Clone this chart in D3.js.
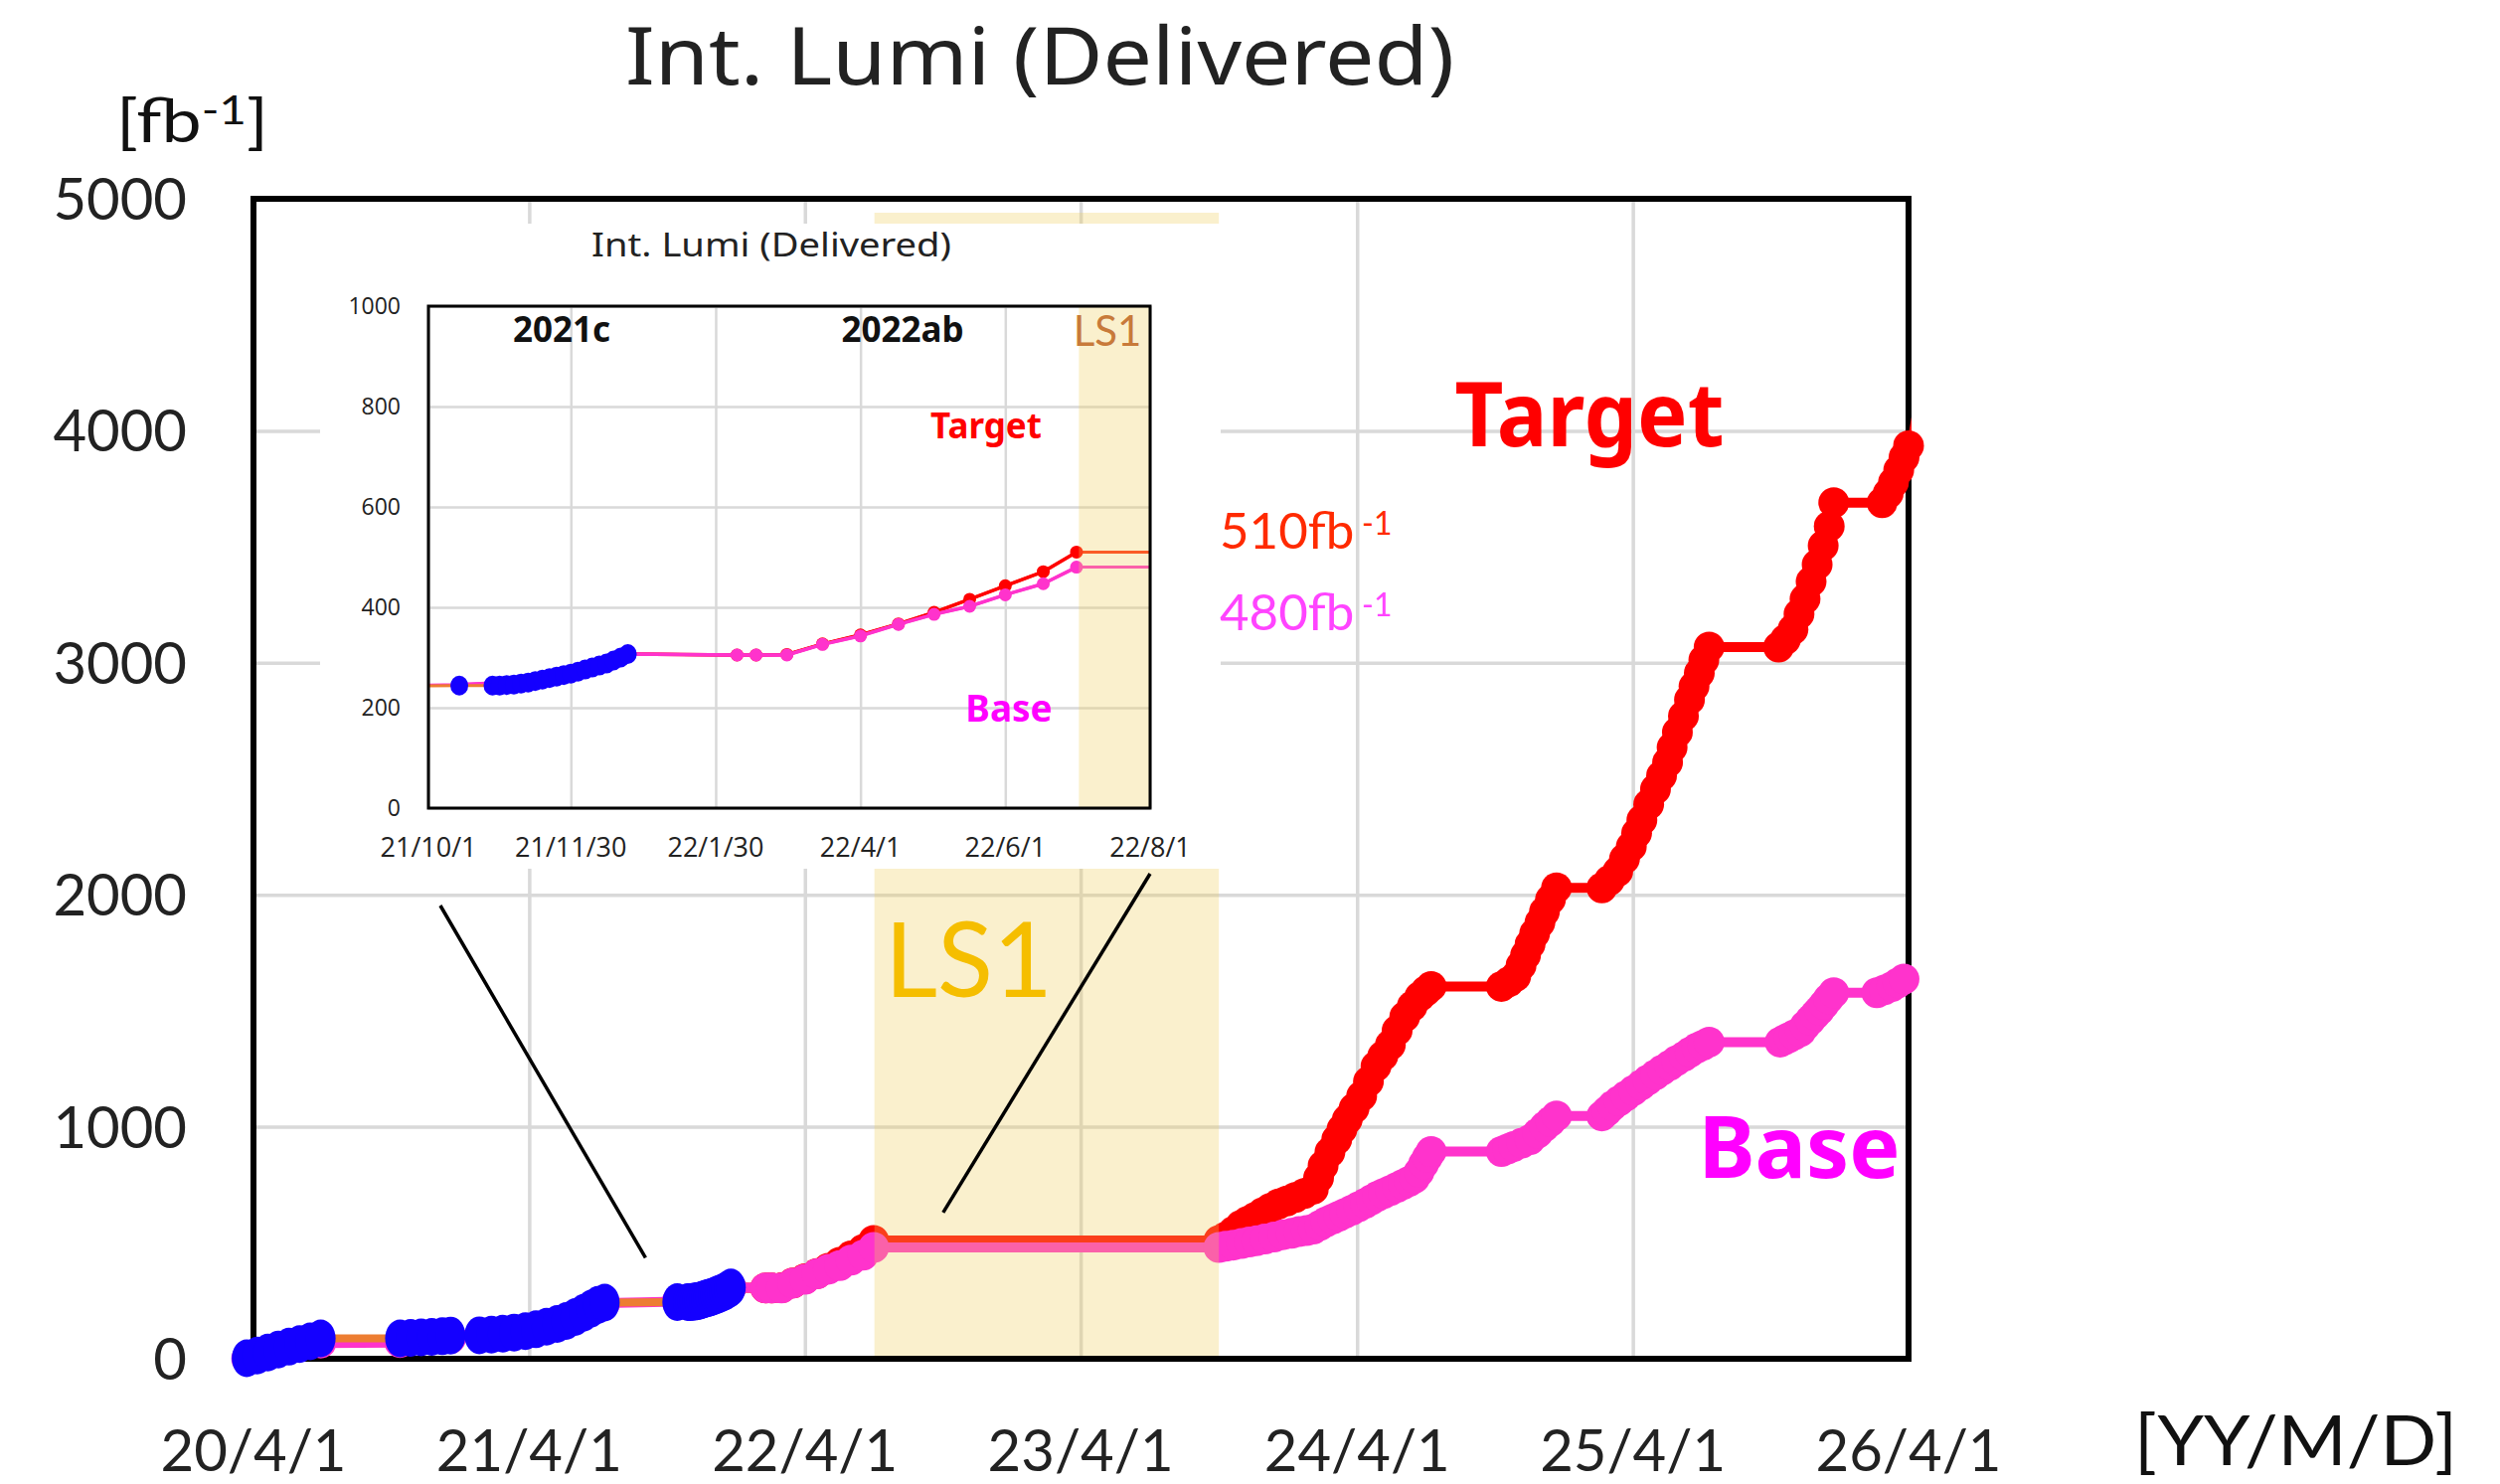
<!DOCTYPE html>
<html>
<head>
<meta charset="utf-8">
<script src="https://cdn.jsdelivr.net/npm/d3@7"></script>
<style>
body { margin: 0; background: #fff; }
</style>
</head>
<body>
<div id="chart"></div>
<script>
// ---- data ----
var yearTicks = ["2020-04-01", "2021-04-01", "2022-04-01", "2023-04-01", "2024-04-01", "2025-04-01", "2026-04-01"];
var yTicks = [0, 1000, 2000, 3000, 4000, 5000];
var insetXTicks = ["2021-10-01", "2021-11-30", "2022-01-30", "2022-04-01", "2022-06-01", "2022-08-01"];
var insetYTicks = [0, 200, 400, 600, 800, 1000];
var ls1 = ["2022-07-02", "2023-10-01"];

// delivered so far (blue dots)
var delivered = [
  ["2020-03-23", 2], ["2020-04-06", 14], ["2020-04-20", 27], ["2020-05-04", 40], ["2020-05-18", 52],
  ["2020-06-01", 63], ["2020-06-15", 75], ["2020-06-29", 88],
  ["2020-10-12", 88], ["2020-10-26", 90], ["2020-11-09", 92], ["2020-11-23", 94], ["2020-12-07", 97], ["2020-12-18", 100],
  ["2021-01-25", 101], ["2021-02-10", 104], ["2021-02-25", 108], ["2021-03-12", 113], ["2021-03-27", 119],
  ["2021-04-10", 127], ["2021-04-24", 138], ["2021-05-08", 150], ["2021-05-20", 163], ["2021-06-01", 180],
  ["2021-06-12", 198], ["2021-06-22", 216], ["2021-07-01", 232], ["2021-07-10", 242],
  ["2021-10-14", 244], ["2021-10-28", 244], ["2021-10-31", 244], ["2021-11-03", 245], ["2021-11-06", 246],
  ["2021-11-09", 248], ["2021-11-12", 250], ["2021-11-15", 253], ["2021-11-18", 256], ["2021-11-21", 259],
  ["2021-11-24", 262], ["2021-11-27", 265], ["2021-11-30", 268], ["2021-12-03", 272], ["2021-12-06", 276],
  ["2021-12-09", 280], ["2021-12-12", 284], ["2021-12-15", 288], ["2021-12-18", 294], ["2021-12-21", 300],
  ["2021-12-24", 307]
];

// Base plan (pink)
var base = [
  ["2020-03-23", 0], ["2020-06-29", 68], ["2020-10-12", 70], ["2020-12-18", 88], ["2021-07-10", 240],
  ["2021-10-14", 246], ["2021-11-09", 252], ["2021-11-30", 272], ["2021-12-24", 307],
  ["2022-02-08", 305], ["2022-02-16", 305], ["2022-03-01", 305], ["2022-03-16", 326], ["2022-04-01", 343],
  ["2022-04-17", 366], ["2022-05-02", 386], ["2022-05-17", 402], ["2022-06-01", 425], ["2022-06-17", 447],
  ["2022-07-01", 480],
  ["2023-10-01", 480], ["2023-10-10", 485], ["2023-10-20", 490], ["2023-10-31", 497], ["2023-11-10", 503],
  ["2023-11-20", 509], ["2023-12-01", 516], ["2023-12-13", 525], ["2023-12-25", 535], ["2024-01-05", 541],
  ["2024-01-15", 548], ["2024-01-25", 553], ["2024-02-03", 559], ["2024-02-12", 575], ["2024-02-20", 590],
  ["2024-02-29", 603], ["2024-03-08", 615], ["2024-03-16", 627], ["2024-03-25", 640], ["2024-04-03", 655],
  ["2024-04-12", 670], ["2024-04-20", 685], ["2024-04-28", 700], ["2024-05-06", 712], ["2024-05-15", 725],
  ["2024-05-24", 739], ["2024-06-01", 752], ["2024-06-09", 765], ["2024-06-16", 778], ["2024-06-22", 805],
  ["2024-06-28", 840], ["2024-07-03", 868], ["2024-07-08", 893],
  ["2024-10-09", 893], ["2024-10-17", 904], ["2024-10-25", 915], ["2024-11-05", 930], ["2024-11-16", 945],
  ["2024-11-26", 972], ["2024-12-05", 1000], ["2024-12-13", 1023], ["2024-12-21", 1047],
  ["2025-02-19", 1047], ["2025-02-26", 1068], ["2025-03-05", 1090], ["2025-03-14", 1112], ["2025-03-23", 1133],
  ["2025-04-02", 1157], ["2025-04-12", 1180], ["2025-04-21", 1202], ["2025-05-01", 1224], ["2025-05-10", 1245],
  ["2025-05-20", 1265], ["2025-05-29", 1285], ["2025-06-08", 1304], ["2025-06-16", 1322], ["2025-06-25", 1340],
  ["2025-07-03", 1352], ["2025-07-11", 1365],
  ["2025-10-13", 1365], ["2025-10-19", 1375], ["2025-10-25", 1385], ["2025-11-01", 1397], ["2025-11-09", 1410],
  ["2025-11-15", 1435], ["2025-11-22", 1460], ["2025-11-28", 1482], ["2025-12-04", 1503], ["2025-12-10", 1527],
  ["2025-12-16", 1552], ["2025-12-23", 1578],
  ["2026-02-18", 1578], ["2026-02-28", 1590], ["2026-03-10", 1604], ["2026-03-18", 1620], ["2026-03-26", 1637],
  ["2026-04-04", 1654]
];

// Target plan (red)
var target = [
  ["2021-12-24", 307], ["2022-02-08", 305], ["2022-02-16", 305], ["2022-03-01", 306], ["2022-03-16", 327],
  ["2022-04-01", 345], ["2022-04-17", 367], ["2022-05-02", 390], ["2022-05-17", 416], ["2022-06-01", 443],
  ["2022-06-17", 471], ["2022-07-01", 510],
  ["2023-10-01", 510], ["2023-10-10", 525], ["2023-10-20", 548], ["2023-10-30", 575], ["2023-11-08", 592],
  ["2023-11-18", 610], ["2023-11-28", 630], ["2023-12-08", 648], ["2023-12-19", 667], ["2023-12-30", 680],
  ["2024-01-10", 695], ["2024-01-22", 712], ["2024-02-03", 731], ["2024-02-10", 780], ["2024-02-16", 832],
  ["2024-02-25", 890], ["2024-03-05", 945], ["2024-03-12", 990], ["2024-03-19", 1031], ["2024-03-28", 1080],
  ["2024-04-07", 1132], ["2024-04-16", 1195], ["2024-04-26", 1261], ["2024-05-05", 1305], ["2024-05-15", 1353],
  ["2024-05-24", 1415], ["2024-06-03", 1474], ["2024-06-13", 1520], ["2024-06-23", 1561], ["2024-07-01", 1585],
  ["2024-07-08", 1605],
  ["2024-10-09", 1605], ["2024-10-19", 1625], ["2024-10-28", 1648], ["2024-11-04", 1695], ["2024-11-10", 1740],
  ["2024-11-16", 1787], ["2024-11-22", 1833], ["2024-11-29", 1880], ["2024-12-05", 1927], ["2024-12-13", 1980],
  ["2024-12-21", 2030],
  ["2025-02-19", 2030], ["2025-03-01", 2062], ["2025-03-12", 2100], ["2025-03-21", 2155], ["2025-03-30", 2208],
  ["2025-04-06", 2265], ["2025-04-13", 2322], ["2025-04-22", 2390], ["2025-05-01", 2455], ["2025-05-09", 2513],
  ["2025-05-17", 2571], ["2025-05-23", 2635], ["2025-05-30", 2700], ["2025-06-07", 2770], ["2025-06-15", 2841],
  ["2025-06-21", 2898], ["2025-06-28", 2955], ["2025-07-04", 3012], ["2025-07-11", 3068],
  ["2025-10-11", 3068], ["2025-10-20", 3100], ["2025-10-30", 3144], ["2025-11-07", 3210], ["2025-11-15", 3275],
  ["2025-11-23", 3350], ["2025-12-01", 3423], ["2025-12-09", 3505], ["2025-12-17", 3588], ["2025-12-23", 3690],
  ["2026-02-25", 3690], ["2026-03-05", 3730], ["2026-03-12", 3777], ["2026-03-19", 3830], ["2026-03-26", 3885],
  ["2026-04-01", 3935], ["2026-04-15", 4200]
];

var parse = d3.timeParse("%Y-%m-%d");
var fmt = d3.timeFormat("%y/%-m/%-d");
function rows(a) { return a.map(function (d) { return { date: parse(d[0]), v: d[1] }; }); }
var dDelivered = rows(delivered), dBase = rows(base), dTarget = rows(target);

var svg = d3.select("#chart").append("svg")
    .attr("width", 2515)
    .attr("height", 1493)
    .style("background", "#fff");

// ---- main chart ----
var m = { left: 255, right: 1920, top: 200, bottom: 1367 };
var x = d3.scaleTime().domain([parse(yearTicks[0]), parse(yearTicks[6])]).range([m.left, m.right]);
var y = d3.scaleLinear().domain([0, 5000]).range([m.bottom, m.top]);
var lastDay = parse(yearTicks[6]);

svg.append("defs").append("clipPath").attr("id", "mainClip")
  .append("rect").attr("x", m.left).attr("y", m.top - 20).attr("width", m.right - m.left + 3).attr("height", m.bottom - m.top + 40);

var grid = svg.append("g");
grid.append("g").attr("transform", "translate(0," + m.bottom + ")")
    .call(d3.axisBottom(x).tickValues(yearTicks.map(parse)).tickSize(-(m.bottom - m.top)).tickFormat(""));
grid.append("g").attr("transform", "translate(" + m.left + ",0)")
    .call(d3.axisLeft(y).tickValues(yTicks).tickSize(-(m.right - m.left)).tickFormat(""));
grid.selectAll(".domain").remove();
grid.selectAll(".tick line").attr("stroke", "#d9d9d9").attr("stroke-width", 3.5);

svg.append("rect")
    .attr("x", m.left).attr("y", m.top)
    .attr("width", m.right - m.left).attr("height", m.bottom - m.top)
    .attr("fill", "none").attr("stroke", "#000").attr("stroke-width", 6);

function series(g, data, color, lw, r, xs, ys, clip) {
  var ln = d3.line().x(function (d) { return xs(d.date); }).y(function (d) { return ys(d.v); });
  g.append("path").datum(data)
    .attr("d", ln).attr("fill", "none").attr("stroke", color).attr("stroke-width", lw)
    .attr("stroke-linejoin", "round").attr("clip-path", clip);
  if (r > 0) {
    g.append("g").selectAll("circle").data(data).join("circle")
      .attr("cx", function (d) { return xs(d.date); })
      .attr("cy", function (d) { return ys(d.v); })
      .attr("r", r).attr("fill", color);
  }
}

var line = d3.line().x(function (d) { return x(d.date); }).y(function (d) { return y(d.v); });
var plot = svg.append("g");
plot.append("path").datum(dTarget).attr("d", line).attr("fill", "none")
    .attr("stroke", "#ff0000").attr("stroke-width", 4).attr("clip-path", "url(#mainClip)");
series(plot, dTarget.filter(function (d) { return d.date <= lastDay; }), "#ff0000", 10, 15.5, x, y, "url(#mainClip)");
series(plot, dBase.filter(function (d) { return d.date <= lastDay; }), "#ff33cc", 10, 15.5, x, y, "url(#mainClip)");
series(plot, dDelivered, "#ed7d31", 8, 0, x, y, "url(#mainClip)");
plot.append("g").selectAll("ellipse").data(dDelivered).join("ellipse")
    .attr("cx", function (d) { return x(d.date); })
    .attr("cy", function (d) { return y(d.v); })
    .attr("rx", 15).attr("ry", 19).attr("fill", "#1400ff");

// LS1 band sits over the curves
svg.append("rect")
    .attr("x", x(parse(ls1[0]))).attr("y", y(4940))
    .attr("width", x(parse(ls1[1])) - x(parse(ls1[0]))).attr("height", m.bottom - 3 - y(4940))
    .attr("fill", "rgb(240,205,90)").attr("fill-opacity", 0.3);

svg.append("text").attr("x", 890).attr("y", 1003)
    .attr("font-family", "Lato, 'Open Sans', sans-serif").attr("font-size", 104)
    .attr("textLength", 169).attr("lengthAdjust", "spacingAndGlyphs")
    .attr("fill", "#f5be00").text("LS1");

// axis labels
svg.append("g").selectAll("text").data(yTicks).join("text")
    .attr("x", 188).attr("y", function (d) { return y(d) + 21; })
    .attr("text-anchor", "end")
    .attr("font-family", "Lato, sans-serif").attr("font-size", 58).attr("fill", "#222")
    .text(function (d) { return d; });
svg.append("g").selectAll("text").data(yearTicks).join("text")
    .attr("x", function (d) { return x(parse(d)); }).attr("y", 1480)
    .attr("text-anchor", "middle")
    .attr("font-family", "Lato, sans-serif").attr("font-size", 58).attr("fill", "#222")
    .text(function (d) { return fmt(parse(d)); });

svg.append("text").attr("x", 629).attr("y", 85)
    .attr("font-family", "'Noto Sans', sans-serif").attr("font-size", 80).attr("fill", "#222")
    .attr("textLength", 834).attr("lengthAdjust", "spacingAndGlyphs")
    .text("Int. Lumi  (Delivered)");

var fbLabel = svg.append("text").attr("x", 117).attr("y", 143)
    .attr("font-family", "Lato, sans-serif").attr("font-size", 60).attr("fill", "#111")
    .attr("textLength", 153).attr("lengthAdjust", "spacingAndGlyphs");
fbLabel.append("tspan").text("[fb");
fbLabel.append("tspan").attr("font-size", 40).attr("dy", -18).text("-1");
fbLabel.append("tspan").attr("dy", 18).text("]");

svg.append("text").attr("x", 2147).attr("y", 1474)
    .attr("font-family", "Lato, sans-serif").attr("font-size", 70).attr("fill", "#111")
    .attr("textLength", 325).attr("lengthAdjust", "spacingAndGlyphs")
    .text("[YY/M/D]");

// ---- inset ----
var ib = { x: 322, y: 225, w: 906, h: 649 };
var im = { left: 431, right: 1157, top: 308, bottom: 813 };
var ix = d3.scaleTime().domain([parse(insetXTicks[0]), parse(insetXTicks[5])]).range([im.left, im.right]);
var iy = d3.scaleLinear().domain([0, 1000]).range([im.bottom, im.top]);
var inDom = function (d) { return d.date >= parse(insetXTicks[0]) && d.date <= parse(insetXTicks[5]); };
var iline = d3.line().x(function (d) { return ix(d.date); }).y(function (d) { return iy(d.v); });

svg.select("defs").append("clipPath").attr("id", "insetClip")
  .append("rect").attr("x", im.left).attr("y", im.top).attr("width", im.right - im.left).attr("height", im.bottom - im.top);

var inset = svg.append("g");
inset.append("rect").attr("x", ib.x).attr("y", ib.y).attr("width", ib.w).attr("height", ib.h).attr("fill", "#fff");

inset.append("text").attr("x", 776).attr("y", 258).attr("text-anchor", "middle")
    .attr("font-family", "'Noto Sans', sans-serif").attr("font-size", 33).attr("fill", "#222")
    .attr("textLength", 362).attr("lengthAdjust", "spacingAndGlyphs")
    .text("Int. Lumi  (Delivered)");

var igrid = inset.append("g");
igrid.append("g").attr("transform", "translate(0," + im.bottom + ")")
    .call(d3.axisBottom(ix).tickValues(insetXTicks.map(parse)).tickSize(-(im.bottom - im.top)).tickFormat(""));
igrid.append("g").attr("transform", "translate(" + im.left + ",0)")
    .call(d3.axisLeft(iy).tickValues(insetYTicks).tickSize(-(im.right - im.left)).tickFormat(""));
igrid.selectAll(".domain").remove();
igrid.selectAll(".tick line").attr("stroke", "#d9d9d9").attr("stroke-width", 2.5);

inset.append("path").datum(dTarget).attr("d", iline)
    .attr("fill", "none").attr("stroke", "#ff2a10").attr("stroke-width", 3).attr("clip-path", "url(#insetClip)");
series(inset, dTarget.filter(inDom), "#ff0000", 3.5, 6.5, ix, iy, "url(#insetClip)");
inset.append("path").datum(dBase).attr("d", iline)
    .attr("fill", "none").attr("stroke", "#ff33cc").attr("stroke-width", 3).attr("clip-path", "url(#insetClip)");
series(inset, dBase.filter(inDom), "#ff33cc", 3.5, 6.5, ix, iy, "url(#insetClip)");
inset.append("path").datum(dDelivered).attr("d", iline)
    .attr("fill", "none").attr("stroke", "#ed7d31").attr("stroke-width", 3).attr("clip-path", "url(#insetClip)");
inset.append("g").selectAll("ellipse").data(dDelivered.filter(inDom)).join("ellipse")
    .attr("cx", function (d) { return ix(d.date); })
    .attr("cy", function (d) { return iy(d.v); })
    .attr("rx", 9).attr("ry", 10).attr("fill", "#1400ff");

inset.append("rect")
    .attr("x", ix(parse(ls1[0]))).attr("y", im.top)
    .attr("width", im.right - ix(parse(ls1[0]))).attr("height", im.bottom - im.top)
    .attr("fill", "rgb(240,205,90)").attr("fill-opacity", 0.3);

inset.append("rect").attr("x", im.left).attr("y", im.top)
    .attr("width", im.right - im.left).attr("height", im.bottom - im.top)
    .attr("fill", "none").attr("stroke", "#000").attr("stroke-width", 3);

inset.append("g").selectAll("text").data(insetYTicks).join("text")
    .attr("x", 403).attr("y", function (d) { return iy(d) + 8; })
    .attr("text-anchor", "end")
    .attr("font-family", "'Open Sans', sans-serif").attr("font-size", 23).attr("fill", "#222")
    .text(function (d) { return d; });
inset.append("g").selectAll("text").data(insetXTicks).join("text")
    .attr("x", function (d) { return ix(parse(d)); }).attr("y", 862)
    .attr("text-anchor", "middle")
    .attr("font-family", "'Open Sans', sans-serif").attr("font-size", 27).attr("fill", "#222")
    .text(function (d) { return fmt(parse(d)); });

function note(g, t, cx, by, size, color, weight, family) {
  return g.append("text").attr("x", cx).attr("y", by).attr("text-anchor", "middle")
    .attr("font-family", family || "'Noto Sans', sans-serif").attr("font-weight", weight || "bold")
    .attr("font-size", size).attr("fill", color).text(t);
}
note(inset, "2021c", 565, 344, 35, "#111");
note(inset, "2022ab", 908, 344, 35, "#111");
note(inset, "LS1", 1114, 348, 42, "#c87a3a", "normal", "Lato, sans-serif");
note(inset, "Target", 992, 441, 35, "#ff0000");
note(inset, "Base", 1015, 726, 37, "#ff00ff");

// zoom connectors from inset to main axis
var connectors = [
  { from: ["2021-10-06", 911], to: ["2021-09-02", 435] },
  { from: ["2022-08-01", 879], to: ["2022-10-01", 630] }
];
svg.append("g").selectAll("line").data(connectors).join("line")
    .attr("x1", function (d) { return ix(parse(d.from[0])); })
    .attr("y1", function (d) { return d.from[1]; })
    .attr("x2", function (d) { return x(parse(d.to[0])); })
    .attr("y2", function (d) { return y(d.to[1]); })
    .attr("stroke", "#000").attr("stroke-width", 3.5);

// series labels
note(svg, "Target", 1599, 449, 90, "#ff0000")
    .attr("textLength", 271).attr("lengthAdjust", "spacingAndGlyphs");
note(svg, "Base", 1810, 1185, 86, "#ff00ff");

// end-of-run-2 values, unit written as separate superscript text
function fbNote(val, by, color) {
  svg.append("text").attr("x", 1227).attr("y", by)
      .attr("font-family", "Lato, sans-serif").attr("font-size", 51).attr("fill", color)
      .text(val + "fb");
  svg.append("text").attr("x", 1370).attr("y", by - 14)
      .attr("font-family", "Lato, sans-serif").attr("font-size", 32).attr("fill", color)
      .text("-1");
}
fbNote(510, 552, "#ff2a00");
fbNote(480, 634, "#ff44ff");
</script>
</body>
</html>
